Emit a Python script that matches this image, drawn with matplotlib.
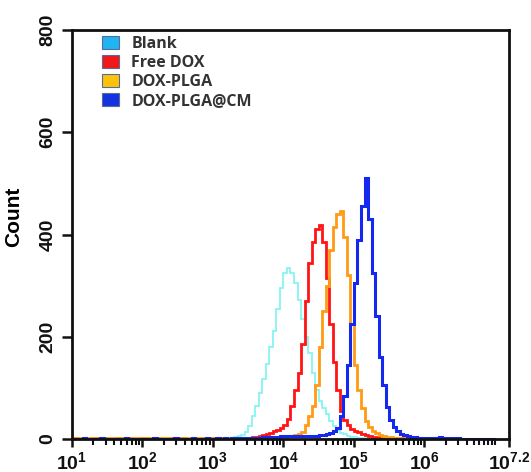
import numpy as np
import matplotlib
matplotlib.use("Agg")
import matplotlib.pyplot as plt
from matplotlib.patches import Patch
from matplotlib.ticker import FixedLocator, FixedFormatter, NullFormatter

plt.rcParams['font.family'] = ['Liberation Sans', 'DejaVu Sans']
plt.rcParams['mathtext.fontset'] = 'custom'
plt.rcParams['mathtext.rm'] = 'Liberation Sans:bold'
plt.rcParams['mathtext.bf'] = 'Liberation Sans:bold'
plt.rcParams['mathtext.it'] = 'Liberation Sans:bold'
plt.rcParams['mathtext.default'] = 'bf'

# ---------------- data ----------------
series_names = ["Blank", "Free DOX", "DOX-PLGA", "DOX-PLGA@CM"]

# histogram bins: log10 fluorescence from 1.0 to 7.0 in steps of 0.05 decade
log_start = 1.0
log_step = 0.05

blank_counts = [
    0, 1, 0, 0, 1, 0, 0, 1, 0, 0,
    0, 0, 1, 0, 0, 1, 0, 0, 0, 1,
    0, 0, 1, 0, 0, 0, 1, 0, 0, 1,
    0, 0, 1, 0, 1, 0, 0, 1, 0, 1,
    1, 1, 1, 2, 2, 2, 3, 5, 8, 14,
    25, 45, 65, 90, 118, 146, 180, 212, 255, 296,
    325, 335, 325, 305, 272, 235, 200, 168, 130, 96,
    75, 60, 48, 35, 25, 18, 12, 9, 6, 4,
    3, 2, 2, 1, 1, 1, 0, 1, 0, 0,
    0, 1, 0, 0, 0, 1, 0, 0, 0, 0,
    0, 0, 1, 0, 0, 0, 0, 0, 0, 0,
    0, 0, 0, 0, 0, 0, 0, 0, 0, 0,
]

free_dox_counts = [
    1, 0, 0, 2, 0, 0, 1, 0, 0, 1,
    0, 0, 0, 1, 0, 0, 1, 0, 0, 0,
    1, 0, 0, 0, 1, 0, 0, 0, 1, 0,
    0, 1, 0, 0, 1, 0, 0, 1, 0, 1,
    1, 0, 1, 1, 1, 1, 1, 1, 2, 2,
    2, 3, 4, 6, 8, 10, 12, 15, 18, 22,
    28, 40, 65, 95, 130, 185, 270, 345, 385, 410,
    418, 385, 315, 225, 150, 95, 55, 38, 27, 20,
    16, 13, 10, 8, 6, 4, 3, 2, 2, 1,
    1, 1, 0, 1, 0, 0, 1, 0, 0, 0,
    0, 1, 0, 0, 0, 0, 0, 0, 0, 0,
    0, 0, 0, 0, 0, 0, 0, 0, 0, 0,
]

dox_plga_counts = [
    1, 2, 1, 1, 2, 1, 1, 1, 2, 1,
    1, 1, 2, 1, 1, 2, 1, 1, 1, 2,
    1, 2, 1, 1, 1, 2, 1, 1, 2, 1,
    1, 1, 2, 1, 2, 1, 1, 2, 1, 1,
    1, 2, 1, 1, 2, 1, 2, 1, 2, 1,
    2, 1, 2, 2, 1, 2, 2, 2, 2, 3,
    4, 5, 6, 8, 10, 14, 28, 45, 65, 105,
    180, 250, 300, 370, 415, 440, 445, 395, 320, 225,
    145, 95, 60, 35, 24, 16, 11, 8, 6, 4,
    3, 2, 2, 2, 1, 2, 1, 1, 2, 1,
    1, 1, 2, 1, 1, 1, 1, 1, 1, 0,
    0, 0, 0, 0, 0, 0, 0, 0, 0, 0,
]

dox_plga_cm_counts = [
    0, 0, 0, 1, 0, 0, 0, 0, 1, 0,
    0, 0, 0, 0, 0, 1, 0, 0, 0, 0,
    0, 0, 0, 1, 0, 0, 0, 0, 0, 1,
    0, 0, 0, 0, 1, 0, 0, 0, 1, 0,
    0, 1, 0, 1, 0, 1, 1, 0, 1, 1,
    1, 2, 2, 2, 3, 3, 3, 4, 4, 5,
    5, 5, 5, 5, 5, 5, 5, 5, 6, 6,
    7, 8, 9, 11, 15, 22, 45, 85, 145, 225,
    305, 390, 455, 510, 430, 325, 240, 160, 105, 62,
    38, 24, 15, 10, 7, 5, 4, 3, 2, 2,
    1, 2, 1, 1, 3, 1, 1, 1, 0, 1,
    0, 0, 0, 0, 0, 0, 0, 0, 0, 0,
]

x_tick_exponents = [1, 2, 3, 4, 5, 6, 7.2]
x_tick_labels = [r"$10^{1}$", r"$10^{2}$", r"$10^{3}$", r"$10^{4}$",
                 r"$10^{5}$", r"$10^{6}$", r"$10^{7.2}$"]
y_ticks = [0, 200, 400, 600, 800]

# ---------------- style ----------------
line_colors = ["#86F5F2", "#FF1414", "#FF9B14", "#1428F0"]
line_widths = [1.3, 2.0, 2.0, 2.2]
patch_colors = ["#20B4F0", "#F01818", "#FFC20A", "#1432E0"]

fig = plt.figure(figsize=(5.31, 4.72), dpi=100)
ax = fig.add_axes([72 / 531, 1 - 439 / 472, 437 / 531, 409 / 472])

all_counts = [blank_counts, free_dox_counts, dox_plga_counts, dox_plga_cm_counts]
n_bins = len(blank_counts)
edges = 10 ** (log_start + log_step * np.arange(n_bins + 1))

for counts, c, lw in zip(all_counts, line_colors, line_widths):
    ax.stairs(counts, edges, color=c, lw=lw, baseline=0)

ax.set_xscale("log")
ax.set_xlim(10 ** 1, 10 ** 7.2)
ax.set_ylim(0, 800)

major_x = [10 ** e for e in x_tick_exponents]
ax.xaxis.set_major_locator(FixedLocator(major_x))
ax.xaxis.set_major_formatter(FixedFormatter(x_tick_labels))
minor_x = [m * 10 ** k for k in range(1, 7) for m in range(2, 10)] + [1e7]
ax.xaxis.set_minor_locator(FixedLocator(minor_x))
ax.xaxis.set_minor_formatter(NullFormatter())

ax.set_yticks(y_ticks)
ax.set_yticklabels([str(v) for v in y_ticks])

for side in ["left", "bottom", "top", "right"]:
    ax.spines[side].set_linewidth(2.0)
    ax.spines[side].set_color("#111111")

ax.tick_params(axis="x", which="major", direction="out", length=6, width=1.8,
               labelsize=14, pad=3, colors="#111111")
ax.tick_params(axis="x", which="minor", direction="out", length=4, width=1.5,
               colors="#111111")
ax.tick_params(axis="y", which="major", direction="out", length=7, width=1.8,
               labelsize=14, pad=4, colors="#111111")
for lbl in ax.get_yticklabels():
    lbl.set_rotation(90)
    lbl.set_va("center")
    lbl.set_fontweight("bold")

ax.set_ylabel("Count", fontsize=15, fontweight="bold")
ax.yaxis.set_label_coords(-0.112, 0.543)

handles = [Patch(facecolor=pc, edgecolor="#5A6A9A", linewidth=0.8) for pc in patch_colors]
leg = ax.legend(handles, series_names, loc="upper left",
                bbox_to_anchor=(0.068, 0.985), frameon=False,
                prop={"family": "Open Sans", "weight": "bold", "size": 11.5},
                handlelength=1.1, handleheight=0.9, handletextpad=0.75,
                labelspacing=0.18, borderpad=0, borderaxespad=0)
for t in leg.get_texts():
    t.set_color("#333333")

fig.savefig("out.png", dpi=100)
